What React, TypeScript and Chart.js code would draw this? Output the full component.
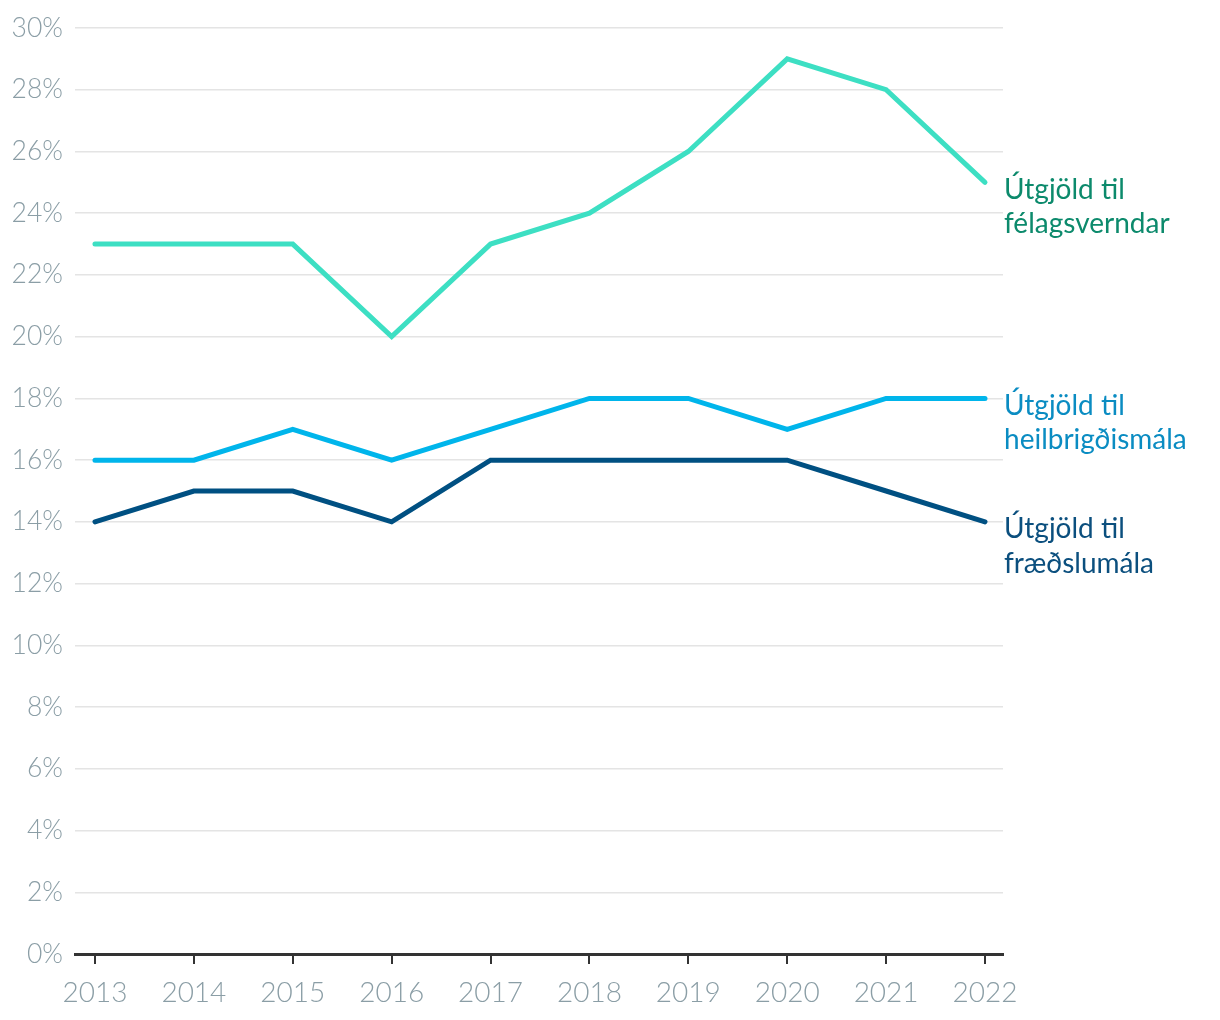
import React, { useEffect, useRef } from "react";
import { Chart, registerables } from "chart.js";

Chart.register(...registerables);

const years = [2013, 2014, 2015, 2016, 2017, 2018, 2019, 2020, 2021, 2022];
const felagsvernd = [23, 23, 23, 20, 23, 24, 26, 29, 28, 25];
const heilbrigdi = [16, 16, 17, 16, 17, 18, 18, 17, 18, 18];
const fraedsla = [14, 15, 15, 14, 16, 16, 16, 16, 15, 14];

const seriesNames = [
  ["Útgjöld til", "félagsverndar"],
  ["Útgjöld til", "heilbrigðismála"],
  ["Útgjöld til", "fræðslumála"],
];
const lineColors = ["#3ddfc3", "#00b5eb", "#005082"];
const labelColors = ["#0c8a6c", "#0a8cc2", "#0b4f7e"];

const endLabels = {
  id: "endLabels",
  afterDatasetsDraw(chart: any) {
    const ctx = chart.ctx;
    ctx.save();
    ctx.font = "400 28px Lato";
    ctx.textAlign = "left";
    ctx.textBaseline = "alphabetic";
    chart.data.datasets.forEach((ds: any, i: number) => {
      const meta = chart.getDatasetMeta(i);
      const pt = meta.data[meta.data.length - 1];
      const lines = seriesNames[i];
      ctx.fillStyle = labelColors[i];
      lines.forEach((ln: string, j: number) => {
        ctx.fillText(ln, pt.x + 19, pt.y + 16.5 + j * 34.5);
      });
    });
    ctx.restore();
  },
};

export default function App() {
  const ref = useRef<HTMLCanvasElement>(null);
  useEffect(() => {
    document.body.style.margin = "0";
    const toPts = (arr: number[]) => years.map((y, i) => ({ x: y, y: arr[i] }));
    const chart = new Chart(ref.current!, {
      type: "line",
      data: {
        datasets: [felagsvernd, heilbrigdi, fraedsla].map((arr, i) => ({
          label: seriesNames[i].join(" "),
          data: toPts(arr),
          borderColor: lineColors[i],
          borderWidth: 5,
          borderCapStyle: "round" as const,
          borderJoinStyle: "miter" as const,
          pointRadius: 0,
          tension: 0,
          fill: false,
        })),
      },
      options: {
        animation: false,
        responsive: false,
        maintainAspectRatio: false,
        layout: { padding: { left: 0, right: 217, top: 28, bottom: 0 } },
        plugins: { legend: { display: false }, tooltip: { enabled: false } },
        scales: {
          x: {
            type: "linear",
            min: 2012.798,
            max: 2022.182,
            afterBuildTicks: (scale: any) => {
              scale.ticks = years.map((v) => ({ value: v }));
            },
            afterFit: (scale: any) => {
              scale.height = 66;
            },
            border: { display: true, color: "#333333", width: 3 },
            grid: {
              drawOnChartArea: false,
              drawTicks: true,
              tickLength: 10,
              color: "#333333",
              lineWidth: 2,
            },
            ticks: {
              color: "#8b9ea6",
              font: { family: "Lato", size: 28, weight: "300" as any },
              padding: 12,
              maxRotation: 0,
              autoSkip: false,
              callback: (v: any) => String(v),
            },
          },
          y: {
            min: 0,
            max: 30,
            afterFit: (scale: any) => {
              scale.width = 75;
            },
            border: { display: false },
            grid: { color: "#e4e4e4", lineWidth: 1.5, drawTicks: false },
            ticks: {
              stepSize: 2,
              color: "#8b9ea6",
              font: { family: "Lato", size: 26.5, weight: "300" as any },
              padding: 12,
              callback: (v: any) => v + "%",
            },
          },
        },
      },
      plugins: [endLabels],
    });
    return () => chart.destroy();
  }, []);
  return <canvas ref={ref} width={1220} height={1020} style={{ display: "block" }} />;
}
